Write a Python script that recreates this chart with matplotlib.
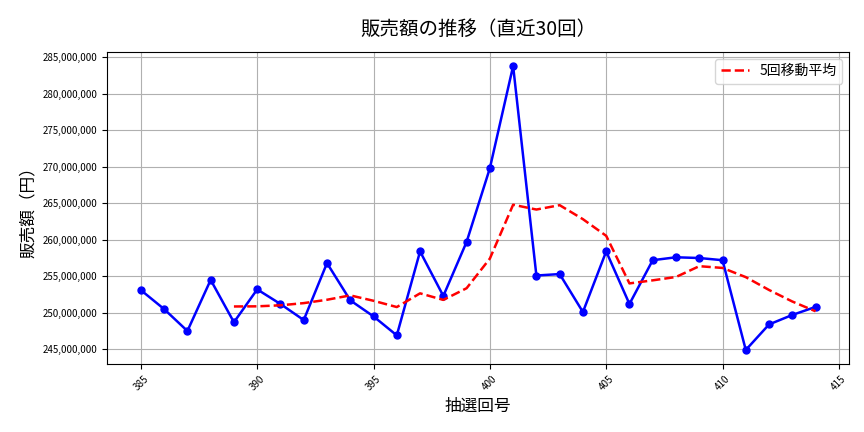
import matplotlib
matplotlib.use("Agg")
import matplotlib.pyplot as plt
import matplotlib.ticker as mtick
import pandas as pd

plt.rcParams["font.family"] = "Noto Sans CJK JP"

draws = list(range(385, 415))
sales_m = [253.1, 250.5, 247.5, 254.5, 248.7, 253.2, 251.2, 249.0, 256.8, 251.7,
           249.5, 246.9, 258.4, 252.3, 259.7, 269.8, 283.8, 255.1, 255.3, 250.1,
           258.4, 251.2, 257.2, 257.6, 257.5, 257.2, 244.9, 248.4, 249.7, 250.8]
sales = [v * 1e6 for v in sales_m]
ma = pd.Series(sales).rolling(5).mean()

fig = plt.figure(figsize=(8.64, 4.32), dpi=100)
ax = fig.add_axes([0.124, 0.157, 0.859, 0.723])
ax.plot(draws, sales, color="blue", marker="o", markersize=5, linewidth=1.8)
ax.plot(draws, ma, color="red", linestyle="--", linewidth=1.8, label="5回移動平均")
ax.set_title("販売額の推移（直近30回）", fontsize=14, pad=12)
ax.set_xlabel("抽選回号", fontsize=12)
ax.set_ylabel("販売額（円）", fontsize=12)
ax.yaxis.set_major_formatter(mtick.FuncFormatter(lambda v, p: f"{int(v):,}"))
ax.set_yticks(range(245000000, 285000001, 5000000))
ax.set_xticks(range(385, 416, 5))
ax.tick_params(axis="x", labelrotation=45, labelsize=7)
ax.tick_params(axis="y", labelsize=7)
ax.grid(True, color="#b0b0b0", linewidth=0.8)
ax.legend(loc="upper right", fontsize=10)
fig.savefig("out.png")
